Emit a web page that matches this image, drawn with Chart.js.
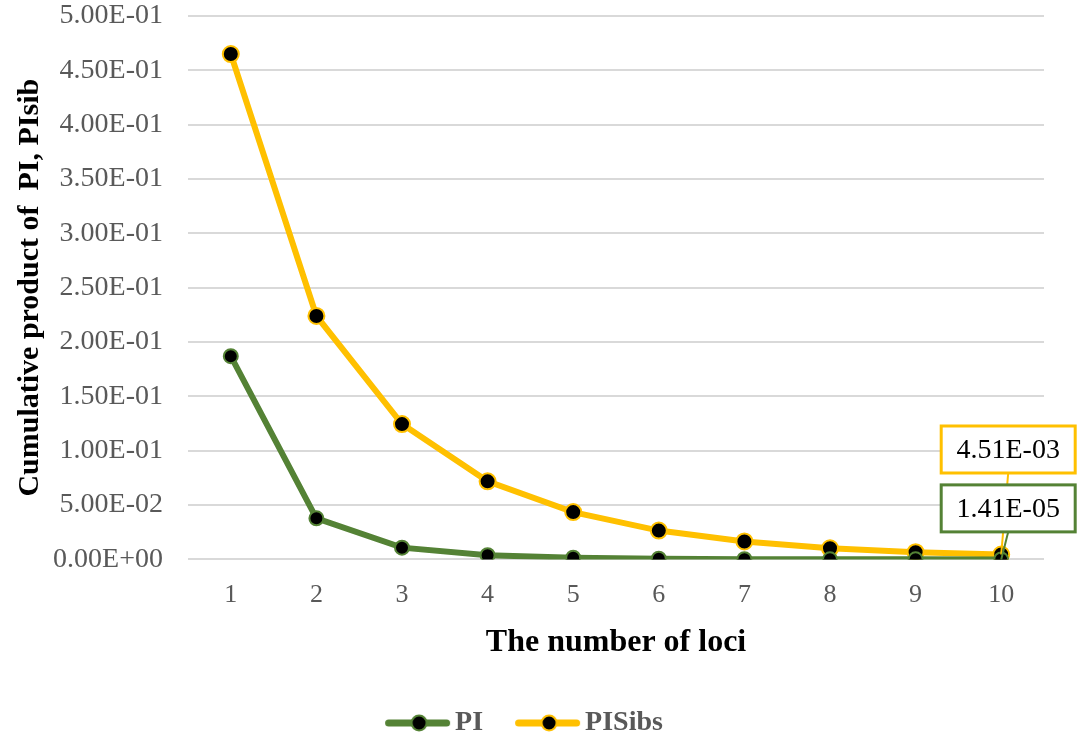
<!DOCTYPE html>
<html>
<head>
<meta charset="utf-8">
<script src="https://cdn.jsdelivr.net/npm/chart.js@4"></script>
<style>
  html, body { margin: 0; padding: 0; background: #fff; }
  #wrap { width: 1080px; height: 735px; }
</style>
</head>
<body>
<div id="wrap"><canvas id="myChart" width="1080" height="735"></canvas></div>
<script>
const loci = ['1', '2', '3', '4', '5', '6', '7', '8', '9', '10'];
const piValues = [0.187, 0.0378, 0.0108, 0.0038, 0.0016, 0.0006, 0.00025, 0.0001, 0.00004, 0.0000141];
const pisibsValues = [0.465, 0.224, 0.1245, 0.0718, 0.0435, 0.0265, 0.0165, 0.0102, 0.0066, 0.00451];
const endLabels = ['1.41E-05', '4.51E-03'];

const GREEN = '#548235';
const YELLOW = '#ffc000';
const FONT = "'Liberation Serif', 'Times New Roman', serif";

function sci(v) {
  let s = Number(v).toExponential(2).toUpperCase();
  return s.replace(/E([+-])(\d)$/, 'E$10$2');
}

// line + marker legend swatch, drawn off-centre so the text sits close to it
function legendIcon(color) {
  const c = document.createElement('canvas');
  c.width = 80; c.height = 22;
  const g = c.getContext('2d');
  g.strokeStyle = color;
  g.lineWidth = 7;
  g.lineCap = 'round';
  g.beginPath(); g.moveTo(15.5, 11); g.lineTo(73.5, 11); g.stroke();
  g.beginPath(); g.arc(46, 11, 7.5, 0, Math.PI * 2);
  g.fillStyle = '#000'; g.fill();
  g.lineWidth = 2; g.strokeStyle = color; g.stroke();
  return c;
}

// boxes with leader lines for the last point of each series
const endLabelPlugin = {
  id: 'endLabels',
  afterDatasetsDraw(chart) {
    const ctx = chart.ctx;
    const boxes = [
      { ds: 1, text: endLabels[1], color: YELLOW, dy: -105 },
      { ds: 0, text: endLabels[0], color: GREEN, dy: -51 }
    ];
    ctx.save();
    boxes.forEach(b => {
      const pt = chart.getDatasetMeta(b.ds).data[9];
      const w = 134, h = 47;
      const bx = pt.x - 60, by = pt.y + b.dy - h / 2;
      ctx.strokeStyle = b.color;
      ctx.lineWidth = 2;
      ctx.beginPath();
      ctx.moveTo(pt.x + 7, by + h);
      ctx.lineTo(pt.x, pt.y);
      ctx.stroke();
      ctx.fillStyle = '#fff';
      ctx.fillRect(bx, by, w, h);
      ctx.lineWidth = 3;
      ctx.strokeRect(bx, by, w, h);
      ctx.fillStyle = '#000';
      ctx.font = '28px ' + FONT;
      ctx.textAlign = 'center';
      ctx.textBaseline = 'middle';
      ctx.fillText(b.text, bx + w / 2, by + h / 2 + 1);
    });
    ctx.restore();
  }
};

window.addEventListener('DOMContentLoaded', () => {
  const ctx = document.getElementById('myChart').getContext('2d');
  const icons = [legendIcon(GREEN), legendIcon(YELLOW)];

  const config = {
    type: 'line',
    data: {
      labels: loci,
      datasets: [
        {
          label: 'PI',
          data: piValues,
          borderColor: GREEN,
          borderWidth: 6,
          pointRadius: 7,
          pointBorderWidth: 2,
          pointBackgroundColor: '#000',
          pointBorderColor: GREEN,
          tension: 0
        },
        {
          label: 'PISibs',
          data: pisibsValues,
          borderColor: YELLOW,
          borderWidth: 6,
          pointRadius: 8,
          pointBorderWidth: 2,
          pointBackgroundColor: '#000',
          pointBorderColor: YELLOW,
          tension: 0
        }
      ]
    },
    options: {
      responsive: false,
      animation: false,
      layout: { padding: { left: 4, right: 36, top: 0, bottom: -12 } },
      plugins: {
        tooltip: { enabled: false },
        legend: {
          position: 'bottom',
          labels: {
            usePointStyle: true,
            pointStyleWidth: 56,
            color: '#595959',
            font: { family: FONT, size: 28, weight: 'bold' },
            padding: 32,
            generateLabels(chart) {
              return chart.data.datasets.map((d, i) => ({
                text: d.label,
                pointStyle: icons[i],
                fillStyle: d.borderColor,
                strokeStyle: d.borderColor,
                lineWidth: 0,
                fontColor: '#595959',
                datasetIndex: i,
                hidden: false
              }));
            }
          }
        }
      },
      scales: {
        x: {
          offset: true,
          grid: { display: false, drawTicks: false },
          border: { display: false },
          afterFit: (scale) => { scale.height -= 19; },
          ticks: { color: '#595959', font: { family: FONT, size: 26 }, padding: 20 },
          title: {
            display: true,
            text: 'The number of loci',
            color: '#000',
            font: { family: FONT, size: 32, weight: 'bold' },
            padding: { top: 12, bottom: 15 }
          }
        },
        y: {
          min: 0,
          max: 0.5,
          grid: { color: '#d9d9d9', lineWidth: 2, drawTicks: false },
          border: { display: false },
          afterFit: (scale) => { scale.paddingTop = 16; scale.width = 184; },
          ticks: {
            stepSize: 0.05,
            color: '#595959',
            font: { family: FONT, size: 28 },
            padding: 25,
            callback: v => sci(v)
          },
          title: {
            display: true,
            text: 'Cumulative product of  PI, PIsib',
            color: '#000',
            font: { family: FONT, size: 30, weight: 'bold' },
            padding: { top: 8, bottom: 6 }
          }
        }
      }
    },
    plugins: [endLabelPlugin]
  };

  new Chart(ctx, config);
});
</script>
</body>
</html>
